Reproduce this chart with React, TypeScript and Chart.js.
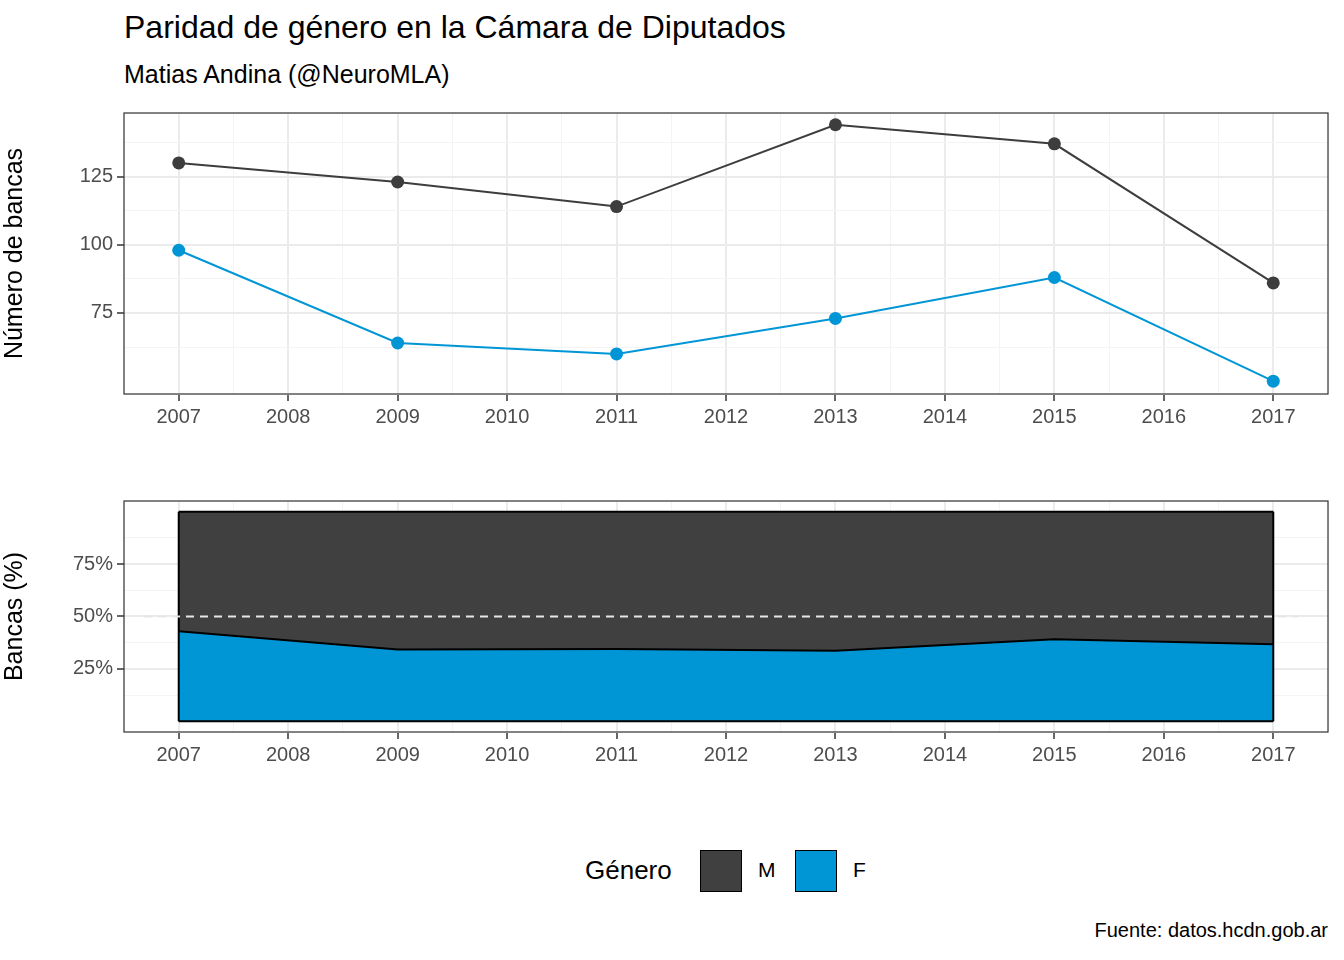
import React, { useEffect, useRef } from "react";
import { Chart, registerables } from "chart.js";
Chart.register(...registerables);

const years = [2007, 2009, 2011, 2013, 2015, 2017];
const seatsM = [130, 123, 114, 144, 137, 86];
const seatsF = [98, 64, 60, 73, 88, 50];
const legendLabels = ["M", "F"];
const colM = "#3d3d3d";
const colF = "#0096d6";
const FONT = "'Liberation Sans', Arial, sans-serif";

const borderPlugin = {
  id: "panelBorder",
  afterDraw(chart: any) {
    const { ctx, chartArea: a } = chart;
    ctx.save();
    ctx.strokeStyle = "#333";
    ctx.lineWidth = 1.2;
    ctx.strokeRect(a.left, a.top, a.right - a.left, a.bottom - a.top);
    ctx.restore();
  },
};

function xScale() {
  return {
    type: "linear" as const,
    min: 2006.5,
    max: 2017.5,
    afterFit: (s: any) => { s.height = 38; },
    ticks: {
      stepSize: 0.5,
      autoSkip: false,
      maxRotation: 0,
      color: "#4d4d4d",
      font: { family: FONT, size: 20 },
      padding: 4,
      callback: (v: any) => (Number.isInteger(v) ? String(v) : ""),
    },
    grid: {
      color: (c: any) => (Number.isInteger(c.tick?.value) ? "#ebebeb" : "#f4f4f4"),
      lineWidth: (c: any) => (Number.isInteger(c.tick?.value) ? 2 : 1),
      tickLength: 7,
      tickColor: (c: any) => (Number.isInteger(c.tick?.value) ? "#333" : "rgba(0,0,0,0)"),
      tickWidth: 1.5,
    },
    border: { display: false },
  };
}

function yScale(min: number, max: number, title: string, fmt: (v: number) => string) {
  const major = (v: number) => Math.abs(v % 25) < 1e-6;
  return {
    type: "linear" as const,
    min,
    max,
    afterFit: (s: any) => { s.width = 124; },
    title: { display: true, text: title, color: "#000", font: { family: FONT, size: 25 }, padding: { top: 0, bottom: 4 } },
    ticks: {
      stepSize: 12.5,
      autoSkip: false,
      color: "#4d4d4d",
      font: { family: FONT, size: 20 },
      padding: 4,
      callback: (v: any) => (major(v) ? fmt(v) : ""),
    },
    grid: {
      color: (c: any) => (major(c.tick?.value) ? "#ebebeb" : "#f4f4f4"),
      lineWidth: (c: any) => (major(c.tick?.value) ? 2 : 1),
      tickLength: 7,
      tickColor: (c: any) => (major(c.tick?.value) ? "#333" : "rgba(0,0,0,0)"),
      tickWidth: 1.5,
    },
    border: { display: false },
  };
}

export default function App() {
  const c1 = useRef<HTMLCanvasElement>(null);
  const c2 = useRef<HTMLCanvasElement>(null);
  useEffect(() => {
    document.body.style.margin = "0";
    const common = {
      responsive: false,
      animation: false as const,
      plugins: { legend: { display: false }, tooltip: { enabled: false } },
    };
    const ch1 = new Chart(c1.current!, {
      type: "line",
      data: {
        datasets: [
          { data: years.map((y, i) => ({ x: y, y: seatsM[i] })), borderColor: colM, backgroundColor: colM, borderWidth: 2, pointRadius: 6.5, pointBorderWidth: 0, tension: 0 },
          { data: years.map((y, i) => ({ x: y, y: seatsF[i] })), borderColor: colF, backgroundColor: colF, borderWidth: 2, pointRadius: 6.5, pointBorderWidth: 0, tension: 0 },
        ],
      },
      options: {
        ...common,
        layout: { padding: { top: 10, right: 16, left: 0, bottom: 0 } },
        scales: { x: xScale(), y: yScale(45.3, 148.3, "Número de bancas", (v) => String(v)) },
      },
      plugins: [borderPlugin],
    });

    const pctF = years.map((_, i) => (100 * seatsF[i]) / (seatsF[i] + seatsM[i]));
    const extraPlugin = {
      id: "extras",
      afterDatasetsDraw(chart: any) {
        const { ctx, chartArea: a, scales } = chart;
        const y0 = scales.y.getPixelForValue(0);
        const y100 = scales.y.getPixelForValue(100);
        ctx.save();
        ctx.strokeStyle = "#000";
        ctx.lineWidth = 2;
        for (const yr of [years[0], years[years.length - 1]]) {
          const x = scales.x.getPixelForValue(yr);
          ctx.beginPath(); ctx.moveTo(x, y0); ctx.lineTo(x, y100); ctx.stroke();
        }
        ctx.beginPath();
        ctx.moveTo(scales.x.getPixelForValue(years[0]), y0);
        ctx.lineTo(scales.x.getPixelForValue(years[years.length - 1]), y0);
        ctx.stroke();
        const y50 = scales.y.getPixelForValue(50);
        ctx.strokeStyle = "#e6e6e6";
        ctx.lineWidth = 2;
        ctx.setLineDash([8, 6]);
        ctx.beginPath(); ctx.moveTo(a.left + 20, y50); ctx.lineTo(a.right - 30, y50); ctx.stroke();
        ctx.restore();
      },
    };
    const ch2 = new Chart(c2.current!, {
      type: "line",
      data: {
        datasets: [
          { data: years.map((y, i) => ({ x: y, y: pctF[i] })), borderColor: "#000", backgroundColor: colF, fill: "origin", borderWidth: 2, pointRadius: 0, order: 0, tension: 0 },
          { data: years.map((y) => ({ x: y, y: 100 })), borderColor: "#000", backgroundColor: "#404040", fill: "origin", borderWidth: 2, pointRadius: 0, order: 1, tension: 0 },
        ],
      },
      options: {
        ...common,
        layout: { padding: { top: 10, right: 16, left: 0, bottom: 0 } },
        scales: { x: xScale(), y: yScale(-5.1, 105.1, "Bancas (%)", (v) => `${v}%`) },
      },
      plugins: [extraPlugin, borderPlugin],
    });
    return () => { ch1.destroy(); ch2.destroy(); };
  }, []);

  const box = (bg: string): React.CSSProperties => ({
    position: "absolute", top: 850, width: 40, height: 40, background: bg, border: "1.5px solid #000",
  });
  return (
    <div style={{ position: "relative", width: 1344, height: 960, background: "#fff", fontFamily: FONT, overflow: "hidden" }}>
      <div style={{ position: "absolute", left: 124, top: 9, fontSize: 32, color: "#000" }}>Paridad de género en la Cámara de Diputados</div>
      <div style={{ position: "absolute", left: 124, top: 60, fontSize: 25, color: "#000" }}>Matias Andina (@NeuroMLA)</div>
      <canvas ref={c1} width={1344} height={335} style={{ position: "absolute", left: 0, top: 97 }} />
      <canvas ref={c2} width={1344} height={285} style={{ position: "absolute", left: 0, top: 485 }} />
      <div style={{ position: "absolute", left: 585, top: 855, fontSize: 26 }}>Género</div>
      <div style={{ ...box("#404040"), left: 700 }} />
      <div style={{ position: "absolute", left: 758, top: 858, fontSize: 21 }}>{legendLabels[0]}</div>
      <div style={{ ...box(colF), left: 795 }} />
      <div style={{ position: "absolute", left: 853, top: 858, fontSize: 21 }}>{legendLabels[1]}</div>
      <div style={{ position: "absolute", right: 16, top: 919, fontSize: 20 }}>Fuente: datos.hcdn.gob.ar</div>
    </div>
  );
}
